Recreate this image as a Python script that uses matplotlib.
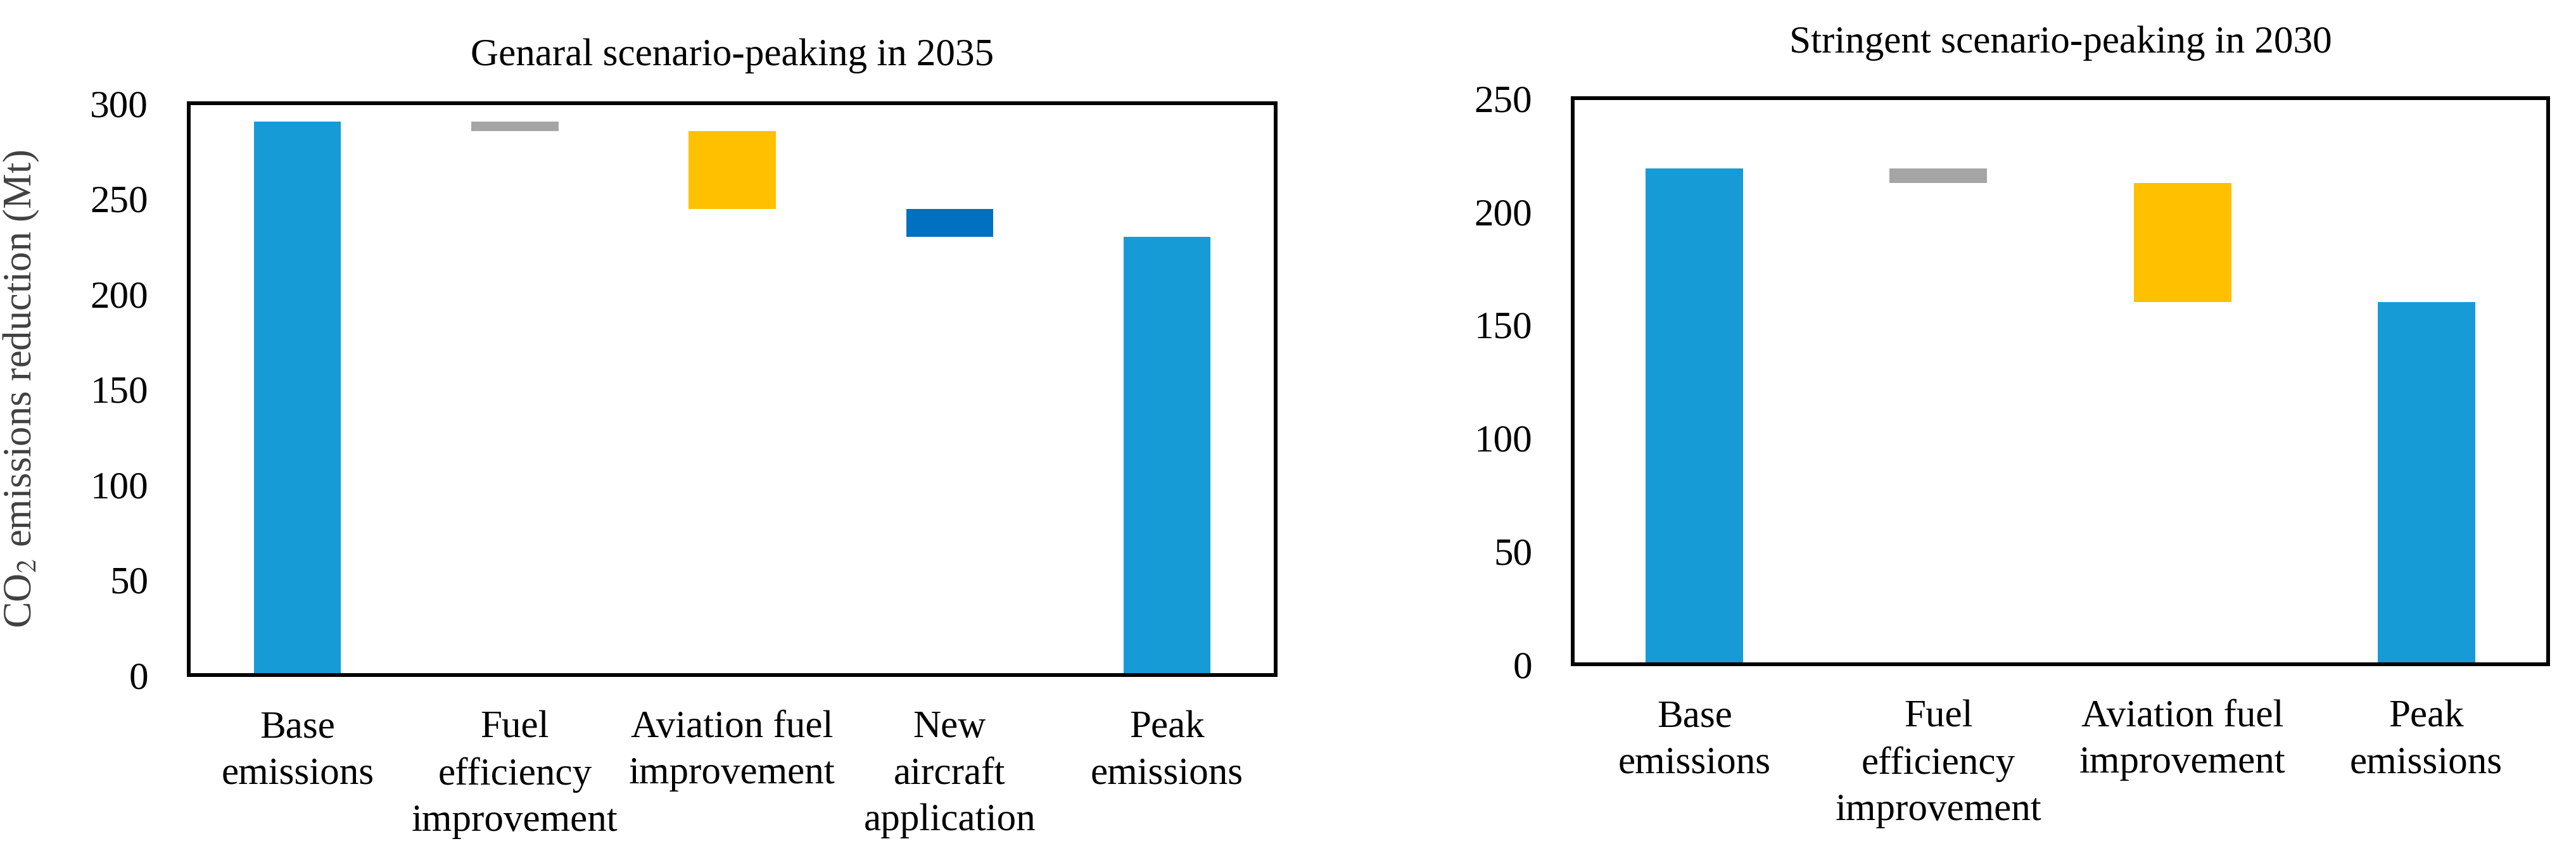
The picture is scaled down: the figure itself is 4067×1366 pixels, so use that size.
import matplotlib
matplotlib.use("Agg")
import matplotlib.pyplot as plt

plt.rcParams['font.family'] = ['Liberation Serif', 'DejaVu Serif']
plt.rcParams['mathtext.fontset'] = 'stix'

# ---- data ----
left_title = "Genaral scenario-peaking in 2035"
left_categories = ["Base\nemissions", "Fuel\nefficiency\nimprovement",
                   "Aviation fuel\nimprovement", "New\naircraft\napplication",
                   "Peak\nemissions"]
left_base = 290.5
left_reductions = [5.0, 41.0, 14.5]
left_peak = 230.0
left_colors = ["#179BD7", "#A5A5A5", "#FFC000", "#0070C0", "#179BD7"]
left_yticks = [0, 50, 100, 150, 200, 250, 300]

right_title = "Stringent scenario-peaking in 2030"
right_categories = ["Base\nemissions", "Fuel\nefficiency\nimprovement",
                    "Aviation fuel\nimprovement", "Peak\nemissions"]
right_base = 219.0
right_reductions = [6.5, 52.5]
right_peak = 160.0
right_colors = ["#179BD7", "#A5A5A5", "#FFC000", "#179BD7"]
right_yticks = [0, 50, 100, 150, 200, 250]

FS = 44

fig = plt.figure(figsize=(40.67, 13.66), dpi=100)
axL = fig.add_axes([0.0733, 0.2196, 0.4219, 0.6611])
axR = fig.add_axes([0.6105, 0.2321, 0.3787, 0.6544])


def waterfall(ax, cats, base, reds, peak, colors, yticks, title, title_pad):
    n = len(cats)
    x = list(range(n))
    heights = [base]
    bottoms = [0]
    run = base
    for r in reds:
        run -= r
        heights.append(r)
        bottoms.append(run)
    heights.append(peak)
    bottoms.append(0)
    ax.bar(x, heights, bottom=bottoms, width=0.4, color=colors, linewidth=0)
    ax.set_xlim(-0.5, n - 0.5)
    ax.set_ylim(0, yticks[-1])
    ax.set_yticks(yticks)
    ax.set_yticklabels([str(t) for t in yticks])
    ax.set_xticks(x)
    ax.set_xticklabels(cats)
    for lab in ax.get_xticklabels():
        lab.set_linespacing(1.42)
    ax.tick_params(axis='y', length=0, pad=46, labelsize=FS)
    ax.tick_params(axis='x', length=0, pad=40, labelsize=FS)
    for s in ax.spines.values():
        s.set_linewidth(4.3)
        s.set_color('black')
    ax.set_title(title, fontsize=FS, pad=title_pad)


waterfall(axL, left_categories, left_base, left_reductions, left_peak,
          left_colors, left_yticks, left_title, 43)
waterfall(axR, right_categories, right_base, right_reductions, right_peak,
          right_colors, right_yticks, right_title, 52)

axL.set_ylabel("CO$_2$ emissions reduction (Mt)", fontsize=45, color='#404040')
axL.yaxis.set_label_coords(-0.136, 0.5)

fig.savefig("out.png", dpi=100, facecolor='white')
